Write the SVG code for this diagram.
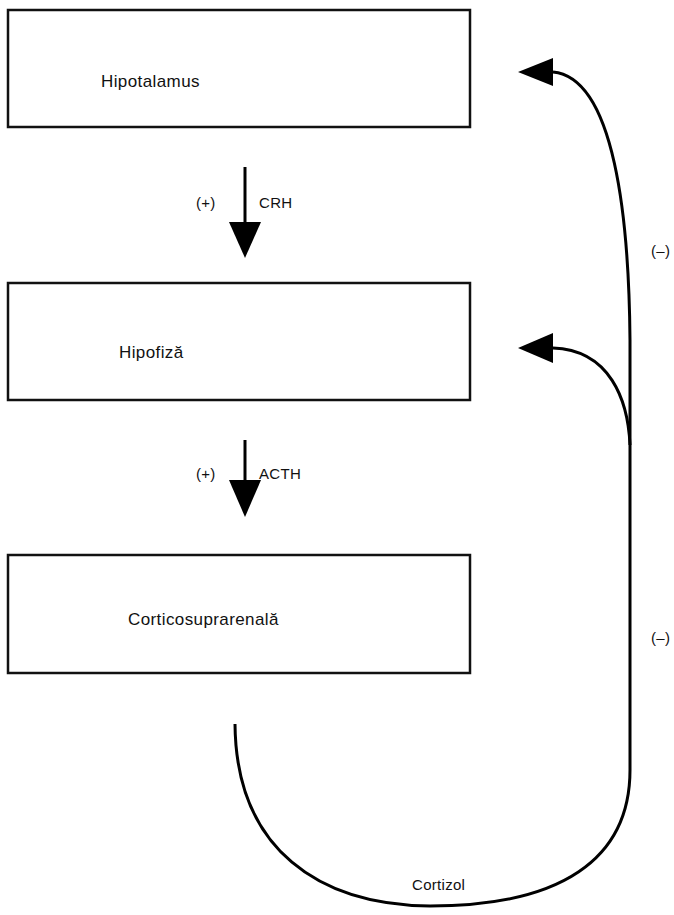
<svg xmlns="http://www.w3.org/2000/svg" width="674" height="915" viewBox="0 0 674 915">
<style>
.box{fill:#fff;stroke:#111;stroke-width:2.5}
.lbl{font-family:"Liberation Sans",Arial,sans-serif;font-size:17px;letter-spacing:0.4px;fill:#111}
.sm{font-family:"Liberation Sans",Arial,sans-serif;font-size:15px;letter-spacing:0.3px;fill:#111}
.ln{fill:none;stroke:#000;stroke-width:3}
.hd{fill:#000}
</style>
<rect width="674" height="915" fill="#fff"/>
<g id="hipotalamus">
<rect class="box" x="8" y="10" width="462" height="117"/>
<text class="lbl" x="101" y="87">Hipotalamus</text>
</g>
<g id="hipofiza">
<rect class="box" x="8" y="283" width="462" height="117"/>
<text class="lbl" x="119" y="358">Hipofiză</text>
</g>
<g id="corticosuprarenala">
<rect class="box" x="8" y="555" width="462" height="118"/>
<text class="lbl" x="128" y="625">Corticosuprarenală</text>
</g>
<g id="connectors">
<line class="ln" x1="245" y1="167" x2="245" y2="224"/>
<polygon class="hd" points="229,222 261,222 245,258"/>
<text class="sm" x="196" y="208">(+)</text>
<text class="sm" x="259" y="208">CRH</text>
<line class="ln" x1="245" y1="440" x2="245" y2="482"/>
<polygon class="hd" points="229,480 261,480 245,517"/>
<text class="sm" x="196" y="479">(+)</text>
<text class="sm" x="259" y="479">ACTH</text>
<path class="ln" d="M235,724 C236,850 320,905 430,906 C560,906 630,860 630,770 L630,340 C629,220 615,78 553,72"/>
<polygon class="hd" points="518,72 553,58 553,86"/>
<path class="ln" d="M630,445 C628,400 610,350 553,348"/>
<polygon class="hd" points="518,348 553,333 553,363"/>
<text class="sm" x="651" y="256">(–)</text>
<text class="sm" x="651" y="643">(–)</text>
<text class="sm" x="412" y="890">Cortizol</text>
</g>
</svg>
